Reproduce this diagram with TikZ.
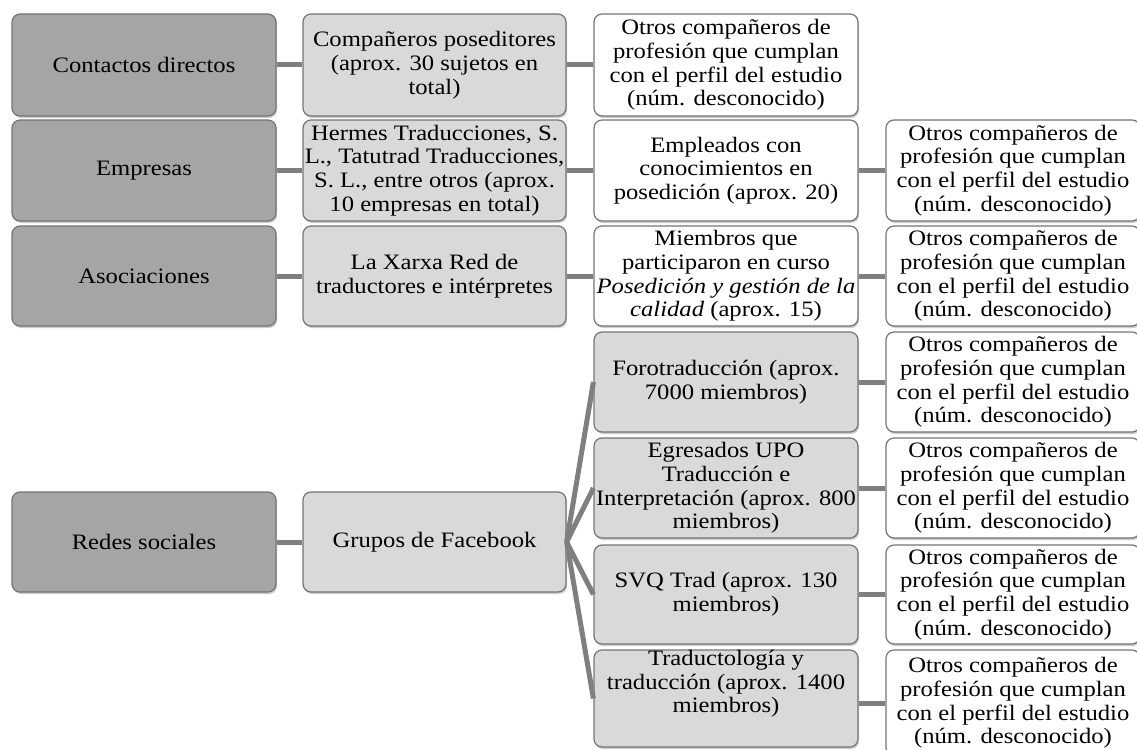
\documentclass[tikz,border=0pt]{standalone}
\usepackage{fontspec}
\setmainfont{Liberation Serif}[FakeStretch=1.12]
\usetikzlibrary{shadows}
\definecolor{darkbox}{HTML}{A5A5A5}
\definecolor{lightbox}{HTML}{D9D9D9}
\definecolor{edgegray}{HTML}{747474}
\definecolor{linkgray}{HTML}{7F7F7F}
\tikzset{
  box/.style={draw=edgegray, line width=0.9pt, rounded corners=6pt, align=center,
    inner sep=0pt, minimum height=75pt, font=\fontsize{16.5}{17.8}\selectfont,
    drop shadow={shadow xshift=0.8pt, shadow yshift=-1.5pt, opacity=0.2, fill=black}},
  lvlone/.style={box, fill=darkbox, minimum width=198pt},
  lvltwo/.style={box, fill=lightbox, minimum width=197.25pt},
  lvlthree/.style={box, fill=white, minimum width=198pt},
  lvlthreeg/.style={box, fill=lightbox, minimum width=198pt},
  lvlfour/.style={box, fill=white, minimum width=190.5pt},
  link/.style={draw=linkgray, line width=3.75pt},
  boxtext/.style={font=\fontsize{16.5}{17.8}\selectfont, align=center, inner sep=0pt}
}
\newcommand{\otros}{Otros compañeros de\\profesión que cumplan\\con el perfil del estudio\\(núm. desconocido)}
\begin{document}
\begin{tikzpicture}[x=0.75pt,y=-0.75pt]
\useasboundingbox (0,0) rectangle (1137,749);
\clip (0,0) rectangle (1137,749);
% row 1
\node[lvlone, minimum height=76.5pt] (c1) at (144,65) {Contactos directos};
\node[lvltwo, minimum height=76.5pt] (c2) at (434.5,65) {Compañeros poseditores\\(aprox. 30 sujetos en\\total)};
\node[lvlthree, minimum height=76.5pt] (c3) at (726,65) {\otros};
% row 2
\node[lvlone, minimum height=75.75pt] (e1) at (144,170.5) {Empresas};
\node[lvltwo, minimum height=75.75pt] (e2) at (434.5,170.5) {Hermes Traducciones, S.\\L., Tatutrad Traducciones,\\S. L., entre otros (aprox.\\10 empresas en total)};
\node[lvlthree, minimum height=75.75pt] (e3) at (726,170.5) {Empleados con\\conocimientos en\\posedición (aprox. 20)};
\node[lvlfour, minimum height=75.75pt] (e4) at (1013,170.5) {\otros};
% row 3
\node[lvlone] (a1) at (144,276) {Asociaciones};
\node[lvltwo] (a2) at (434.5,276) {La Xarxa Red de\\traductores e intérpretes};
\node[lvlthree] (a3) at (726,276) {Miembros que\\participaron en curso\\\textit{Posedición y gestión de la}\\\textit{calidad} (aprox. 15)};
\node[lvlfour] (a4) at (1013,276) {\otros};
% row 4
\node[lvlone] (r1) at (144,542) {Redes sociales};
\node[lvltwo] (r2) at (434.5,542) {Grupos de Facebook};
\node[lvlthreeg] (f1) at (726,382) {Forotraducción (aprox.\\7000 miembros)};
\node[lvlthreeg] (f2) at (726,488) {Egresados UPO\\Traducción e\\Interpretación (aprox. 800\\miembros)};
\node[lvlthreeg, minimum height=74.25pt] (f3) at (726,594.5) {SVQ Trad (aprox. 130\\miembros)};
\node[lvlthreeg, minimum height=72.75pt,
  label={[boxtext, yshift=11pt]center:Traductología y\\traducción (aprox. 1400\\miembros)}] (f4) at (726,698.5) {};
\node[lvlfour] (g1) at (1013,382) {\otros};
\node[lvlfour] (g2) at (1013,488) {\otros};
\node[lvlfour, minimum height=74.25pt] (g3) at (1013,594.5) {\otros};
\node[lvlfour, minimum height=79.5pt] (g4) at (1013,703) {\otros};
% connectors
\draw[link] (c1.east) -- (c2.west);
\draw[link] (c2.east) -- (c3.west);
\draw[link] (e1.east) -- (e2.west);
\draw[link] (e2.east) -- (e3.west);
\draw[link] (e3.east) -- (e4.west);
\draw[link] (a1.east) -- (a2.west);
\draw[link] (a2.east) -- (a3.west);
\draw[link] (a3.east) -- (a4.west);
\draw[link] (r1.east) -- (r2.west);
\draw[link] (r2.east) -- (f1.west);
\draw[link] (r2.east) -- (f2.west);
\draw[link] (r2.east) -- (f3.west);
\draw[link] (r2.east) -- (f4.west);
\draw[link] (f1.east) -- (g1.west);
\draw[link] (f2.east) -- (g2.west);
\draw[link] (f3.east) -- (g3.west);
\draw[link] (g4.west -| f4.east) -- (g4.west);
\end{tikzpicture}
\end{document}
